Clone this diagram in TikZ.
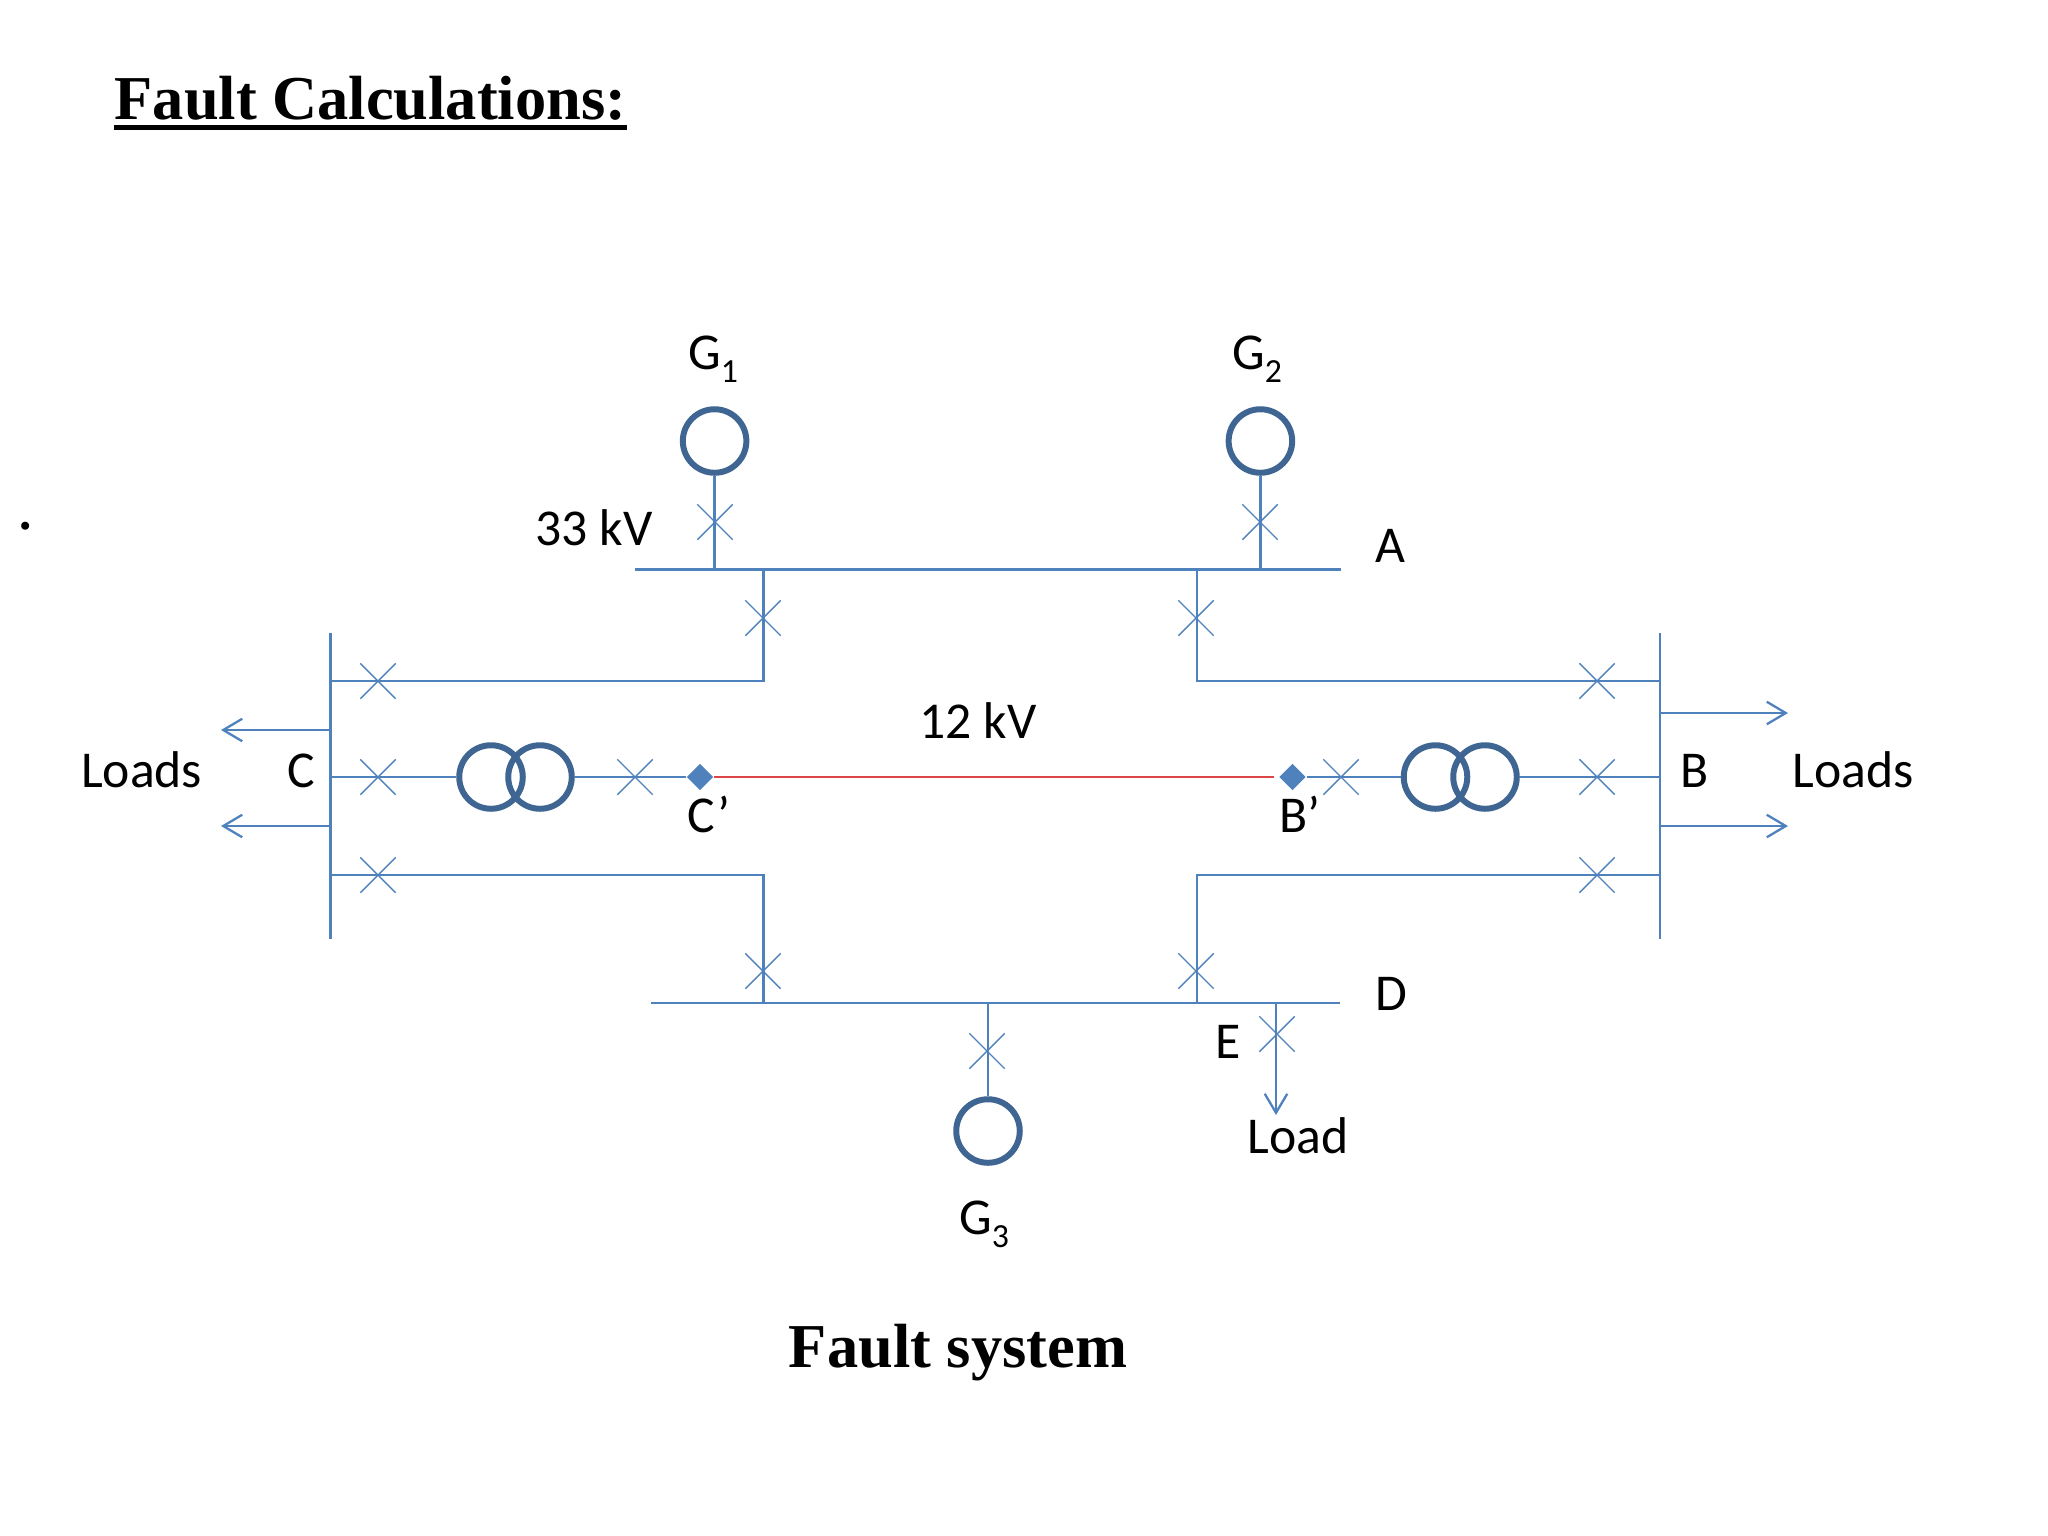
\documentclass[tikz,border=0pt]{standalone}
\usepackage{fontspec}
\setmainfont{Liberation Serif}
\newfontfamily\lblfont{Carlito}
\usetikzlibrary{arrows.meta}
\usetikzlibrary{shapes.geometric}
\usetikzlibrary{shapes.misc}
\definecolor{linecol}{HTML}{4F81BD}
\definecolor{windcol}{HTML}{3F6592}
\definecolor{faultcol}{HTML}{DC4447}
\newcommand{\gsub}[1]{\raisebox{-0.55ex}{\fontsize{9.6}{10}\selectfont #1}}

\begin{document}
\begin{tikzpicture}[x=0.01cm,y=-0.01cm]
    \tikzstyle{line} = [draw=linecol,line width=0.65pt]
    \tikzstyle{flow} = [line,-{Straight Barb[length=5.4pt,width=6.4pt]}]
    \tikzstyle{brk} = [cross out,draw=linecol,line width=0.4pt,minimum size=0.34cm,inner sep=0pt]
    \tikzstyle{wind} = [circle,draw=windcol,line width=1.7pt,minimum size=0.635cm,inner sep=0pt]
    \tikzstyle{point} = [diamond,fill=linecol,minimum size=0.27cm,inner sep=0pt]
    \tikzstyle{lbl} = [anchor=base,inner sep=0pt,font=\lblfont\fontsize{14.7}{16}\selectfont]
    \tikzstyle{head} = [anchor=base,inner sep=0pt,font=\bfseries\fontsize{17.75}{20}\selectfont]
    \useasboundingbox (0,0) rectangle (2048,1536);

    \node[head,anchor=base west] at (114,119) (title) {Fault Calculations:};
    \draw[line width=1.3pt] ([yshift=-2.4pt]title.base west) -- ([yshift=-2.4pt]title.base east);
    \node[head] at (958,1367) (caption) {Fault system};
    \node[anchor=base,inner sep=0pt,font=\bfseries\fontsize{14}{16}\selectfont] at (26,529) (dot) {.};

    \node[wind] at (714.6,441) (g1) {};
    \node[wind] at (1260.4,441) (g2) {};
    \node[wind] at (988,1131) (g3) {};
    \node[wind] at (491,777) (t1a) {};
    \node[wind] at (540,777) (t1b) {};
    \node[wind] at (1435.5,777) (t2a) {};
    \node[wind] at (1485,777) (t2b) {};
    \node[point] at (700,777) (cp) {};
    \node[point] at (1292.5,777) (bp) {};

    % bus bars
    \coordinate (a1) at (635,569.6);
    \coordinate (a2) at (1341,569.6);
    \coordinate (d1) at (650.5,1003);
    \coordinate (d2) at (1340,1003);
    \coordinate (c1) at (330.5,632.6);
    \coordinate (c2) at (330.5,939.3);
    \coordinate (b1) at (1660,632.6);
    \coordinate (b2) at (1660,939.3);
    \draw[line] (a1) -- (a2);
    \draw[line] (d1) -- (d2);
    \draw[line] (c1) -- (c2);
    \draw[line] (b1) -- (b2);

    % generators
    \coordinate (ag1) at (714.6,569.6);
    \coordinate (ag2) at (1260.4,569.6);
    \coordinate (dg3) at (988,1003);
    \draw[line] (g1) -- (ag1);
    \draw[line] (g2) -- (ag2);
    \draw[line] (g3) -- (dg3);

    % feeders
    \coordinate (af1) at (763.5,569.6);
    \coordinate (af1c) at (763.5,680.8);
    \coordinate (cf1) at (330.5,680.8);
    \coordinate (af2) at (1197,569.6);
    \coordinate (af2c) at (1197,680.8);
    \coordinate (bf1) at (1660,680.8);
    \coordinate (df1) at (763.5,1003);
    \coordinate (df1c) at (763.5,875);
    \coordinate (cf2) at (330.5,875);
    \coordinate (df2) at (1197,1003);
    \coordinate (df2c) at (1197,875);
    \coordinate (bf2) at (1660,875);
    \draw[line] (af1) -- (af1c) -- (cf1);
    \draw[line] (af2) -- (af2c) -- (bf1);
    \draw[line] (df1) -- (df1c) -- (cf2);
    \draw[line] (df2) -- (df2c) -- (bf2);

    % 12 kV link
    \coordinate (cm) at (330.5,777);
    \coordinate (bm) at (1660,777);
    \draw[line] (cm) -- (t1a);
    \draw[line] (t1b) -- (cp);
    \draw[line] (bp) -- (t2a);
    \draw[line] (t2b) -- (bm);
    \draw[draw=faultcol,line width=0.65pt,shorten >=1.2pt] (cp) -- (bp);

    % loads
    \coordinate (cl1) at (330.5,730);
    \coordinate (cl1e) at (221,730);
    \coordinate (cl2) at (330.5,826);
    \coordinate (cl2e) at (221,826);
    \coordinate (bl1) at (1660,713);
    \coordinate (bl1e) at (1788,713);
    \coordinate (bl2) at (1660,826);
    \coordinate (bl2e) at (1788,826);
    \coordinate (dl) at (1276,1003);
    \coordinate (dle) at (1276,1115);
    \draw[flow] (cl1) -- (cl1e);
    \draw[flow] (cl2) -- (cl2e);
    \draw[flow] (bl1) -- (bl1e);
    \draw[flow] (bl2) -- (bl2e);
    \draw[flow] (dl) -- (dle);

    % breakers
    \node[brk] at (715,522) (k1) {};
    \node[brk] at (1260,522) (k2) {};
    \node[brk] at (763,618) (k3) {};
    \node[brk] at (1196,618) (k4) {};
    \node[brk] at (378,681) (k5) {};
    \node[brk] at (378,777) (k6) {};
    \node[brk] at (378,875) (k7) {};
    \node[brk] at (635,777) (k8) {};
    \node[brk] at (1341,777) (k9) {};
    \node[brk] at (1597,681) (k10) {};
    \node[brk] at (1597,777) (k11) {};
    \node[brk] at (1597,875) (k12) {};
    \node[brk] at (763,971) (k13) {};
    \node[brk] at (1196,971) (k14) {};
    \node[brk] at (987,1051) (k15) {};
    \node[brk] at (1277,1034) (k16) {};

    % labels
    \node[lbl] at (713,369) (lg1) {G\gsub{1}};
    \node[lbl] at (1257,369) (lg2) {G\gsub{2}};
    \node[lbl] at (984,1234) (lg3) {G\gsub{3}};
    \node[lbl] at (594,545) (l33) {33 kV};
    \node[lbl] at (978,738) (l12) {12 kV};
    \node[lbl] at (1390,562) (la) {A};
    \node[lbl] at (1695,787) (lb) {B};
    \node[lbl] at (301,787) (lc) {C};
    \node[lbl] at (1391,1010) (ld) {D};
    \node[lbl] at (1228,1058) (le) {E};
    \node[lbl] at (709,832) (lcp) {C’};
    \node[lbl] at (1300,832) (lbp) {B’};
    \node[lbl] at (141.7,787) (ll1) {Loads};
    \node[lbl] at (1853.5,787) (ll2) {Loads};
    \node[lbl] at (1298,1153) (ll3) {Load};
\end{tikzpicture}
\end{document}
